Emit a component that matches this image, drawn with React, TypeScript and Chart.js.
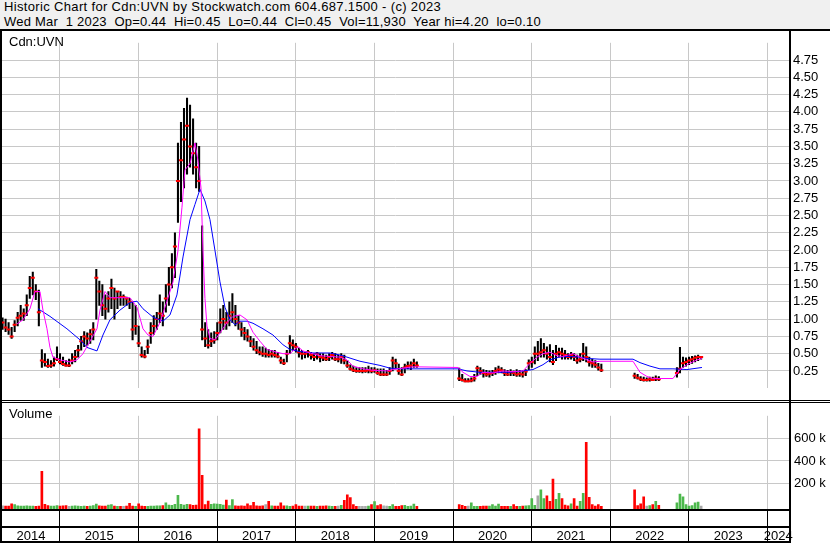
import { useEffect, useRef } from 'react';
import { Chart, registerables } from 'chart.js';

Chart.register(...registerables);

const FONT = '"Liberation Sans", Arial, sans-serif';
Chart.defaults.font.family = FONT;
Chart.defaults.font.size = 13;
Chart.defaults.color = '#000';

const TITLE_1 = 'Historic Chart for Cdn:UVN by Stockwatch.com 604.687.1500 - (c) 2023';
const TITLE_2 = 'Wed Mar  1 2023  Op=0.44  Hi=0.45  Lo=0.44  Cl=0.45  Vol=11,930  Year hi=4.20  lo=0.10';
const SYMBOL = 'Cdn:UVN';
const VOLUME_LABEL = 'Volume';

// time axis (decimal years)
const X_MIN = 2014.263;
const X_MAX = 2024.272;
const FIRST_PERIOD = 2014.27; // first bi-weekly bar
const PERIODS_PER_YEAR = 26;

const years = [2014, 2015, 2016, 2017, 2018, 2019, 2020, 2021, 2022, 2023, 2024];
const priceTicks = [0.25, 0.5, 0.75, 1, 1.25, 1.5, 1.75, 2, 2.25, 2.5, 2.75, 3, 3.25, 3.5, 3.75, 4, 4.25, 4.5, 4.75];
const volumeTicks = [200000, 400000, 600000];

const N = null;

// bi-weekly high / low / close
const high = [
  1.02, 1.00, 0.95, 0.88, 0.98, 1.10, 1.20, 1.15, 1.35, 1.62,
  1.68, 1.50, 1.42, 0.56, 0.50, 0.42, 0.40, 0.45, 0.60, 0.50,
  0.45, 0.40, 0.42, 0.50, 0.55, 0.62, 0.75, 0.82, 0.80, 0.85,
  0.95, 1.72, 1.55, 1.50, 1.35, 1.40, 1.58, 1.45, 1.40, 1.40,
  1.35, 1.32, 1.30, 1.25, 1.20, 0.90, 0.60, 0.55, 0.70, 0.95,
  1.05, 1.10, 1.35, 1.25, 1.50, 1.75, 1.95, 2.25, 3.55, 3.85,
  4.05, 4.20, 4.10, 3.90, 3.55, 3.50, 2.35, 0.95, 0.85, 0.80,
  0.82, 0.95, 1.15, 1.20, 1.10, 1.25, 1.37, 1.20, 1.05, 0.95,
  0.88, 0.85, 0.75, 0.72, 0.68, 0.60, 0.60, 0.58, 0.56, 0.55,
  0.55, 0.52, 0.45, 0.42, 0.55, 0.76, 0.70, 0.65, 0.58, 0.55,
  0.52, 0.55, 0.52, 0.50, 0.52, 0.50, 0.50, 0.48, 0.50, 0.52,
  0.50, 0.48, 0.50, 0.48, 0.40, 0.34, 0.32, 0.30, 0.30, 0.30,
  0.30, 0.32, 0.30, 0.30, 0.28, 0.28, 0.28, 0.26, 0.30, 0.45,
  0.42, 0.35, 0.30, 0.35, 0.38, 0.38, 0.42, 0.38, N, N,
  N, N, N, N, N, N, N, N, N, N,
  N, 0.29, 0.20, 0.14, 0.14, 0.15, 0.20, 0.32, 0.30, 0.27,
  0.26, 0.25, 0.26, 0.30, 0.32, 0.30, 0.27, 0.26, 0.27, 0.25,
  0.27, 0.26, 0.25, 0.27, 0.41, 0.45, 0.60, 0.68, 0.72, 0.65,
  0.60, 0.63, 0.55, 0.62, 0.58, 0.58, 0.55, 0.50, 0.52, 0.50,
  0.48, 0.50, 0.65, 0.60, 0.45, 0.42, 0.40, 0.36, 0.35, N,
  N, N, N, N, N, N, N, N, N, 0.22,
  0.20, 0.17, 0.16, 0.15, 0.16, 0.16, 0.18, 0.17, N, N,
  N, N, N, 0.30, 0.59, 0.45, 0.44, 0.45, 0.46, 0.47,
  0.48, 0.46,
];

const low = [
  0.85, 0.82, 0.78, 0.72, 0.82, 0.90, 0.98, 0.98, 1.05, 1.30,
  1.35, 1.28, 0.90, 0.30, 0.32, 0.30, 0.30, 0.32, 0.40, 0.35,
  0.33, 0.32, 0.31, 0.35, 0.38, 0.45, 0.55, 0.60, 0.62, 0.65,
  0.70, 1.00, 1.20, 1.05, 1.00, 1.10, 1.15, 1.00, 1.15, 1.20,
  1.20, 1.20, 1.15, 0.70, 0.78, 0.60, 0.45, 0.44, 0.50, 0.65,
  0.78, 0.85, 0.95, 0.90, 1.10, 1.20, 1.45, 1.60, 2.40, 2.70,
  2.90, 3.10, 3.20, 3.10, 2.90, 2.85, 0.70, 0.60, 0.58, 0.60,
  0.65, 0.70, 0.80, 0.85, 0.85, 0.90, 0.95, 0.90, 0.85, 0.75,
  0.70, 0.68, 0.60, 0.55, 0.50, 0.48, 0.46, 0.45, 0.45, 0.45,
  0.45, 0.44, 0.36, 0.34, 0.38, 0.50, 0.55, 0.52, 0.45, 0.42,
  0.44, 0.45, 0.42, 0.40, 0.42, 0.38, 0.40, 0.40, 0.40, 0.42,
  0.40, 0.38, 0.36, 0.35, 0.30, 0.26, 0.24, 0.23, 0.23, 0.22,
  0.23, 0.22, 0.22, 0.23, 0.20, 0.18, 0.18, 0.18, 0.20, 0.25,
  0.28, 0.20, 0.18, 0.22, 0.28, 0.27, 0.30, 0.30, N, N,
  N, N, N, N, N, N, N, N, N, N,
  N, 0.11, 0.10, 0.09, 0.09, 0.09, 0.10, 0.18, 0.20, 0.16,
  0.17, 0.16, 0.18, 0.20, 0.22, 0.22, 0.18, 0.18, 0.18, 0.18,
  0.17, 0.17, 0.16, 0.18, 0.27, 0.30, 0.35, 0.40, 0.45, 0.45,
  0.42, 0.38, 0.34, 0.40, 0.45, 0.42, 0.42, 0.42, 0.42, 0.40,
  0.36, 0.38, 0.40, 0.38, 0.32, 0.30, 0.30, 0.26, 0.24, N,
  N, N, N, N, N, N, N, N, N, 0.14,
  0.13, 0.11, 0.10, 0.10, 0.10, 0.11, 0.11, 0.11, N, N,
  N, N, N, 0.16, 0.22, 0.30, 0.32, 0.34, 0.36, 0.38,
  0.40, 0.42,
];

const close = [
  0.95, 0.88, 0.85, 0.75, 0.92, 1.02, 1.05, 1.08, 1.20, 1.45,
  1.60, 1.40, 1.10, 0.40, 0.38, 0.32, 0.33, 0.36, 0.42, 0.38,
  0.35, 0.33, 0.33, 0.40, 0.45, 0.55, 0.68, 0.75, 0.72, 0.78,
  0.85, 1.60, 1.40, 1.20, 1.15, 1.30, 1.45, 1.30, 1.40, 1.32,
  1.32, 1.30, 1.25, 0.85, 0.90, 0.65, 0.48, 0.46, 0.60, 0.80,
  0.90, 1.00, 1.08, 1.05, 1.30, 1.50, 1.75, 2.05, 3.00, 3.30,
  3.60, 3.80, 3.50, 3.40, 3.20, 3.00, 0.85, 0.72, 0.62, 0.68,
  0.70, 0.80, 0.95, 1.00, 0.95, 1.05, 1.10, 1.00, 0.95, 0.85,
  0.80, 0.75, 0.68, 0.60, 0.55, 0.52, 0.50, 0.50, 0.48, 0.50,
  0.48, 0.46, 0.40, 0.36, 0.50, 0.65, 0.62, 0.60, 0.52, 0.50,
  0.50, 0.52, 0.48, 0.45, 0.50, 0.45, 0.44, 0.42, 0.45, 0.48,
  0.42, 0.42, 0.45, 0.40, 0.33, 0.28, 0.26, 0.25, 0.25, 0.25,
  0.25, 0.26, 0.25, 0.26, 0.22, 0.20, 0.20, 0.20, 0.25, 0.40,
  0.36, 0.25, 0.20, 0.30, 0.32, 0.33, 0.36, 0.33, N, N,
  N, N, N, N, N, N, N, N, N, N,
  N, 0.14, 0.12, 0.10, 0.10, 0.11, 0.14, 0.29, 0.25, 0.22,
  0.20, 0.21, 0.22, 0.25, 0.27, 0.26, 0.22, 0.20, 0.23, 0.22,
  0.20, 0.21, 0.20, 0.24, 0.36, 0.38, 0.50, 0.50, 0.52, 0.55,
  0.50, 0.45, 0.38, 0.50, 0.52, 0.50, 0.48, 0.45, 0.48, 0.45,
  0.40, 0.42, 0.50, 0.45, 0.38, 0.36, 0.34, 0.30, 0.26, N,
  N, N, N, N, N, N, N, N, N, 0.18,
  0.15, 0.13, 0.12, 0.12, 0.13, 0.12, 0.14, 0.13, N, N,
  N, N, N, 0.22, 0.28, 0.36, 0.38, 0.40, 0.42, 0.44,
  0.45, 0.45,
];

// bi-weekly volume, thousands of shares
const volumeK = [
  8, 6, 5, 25, 18, 8, 6, 5, 7, 6,
  5, 4, 6, 310, 20, 10, 5, 6, 10, 5,
  8, 10, 4, 5, 8, 5, 4, 5, 4, 6,
  10, 23, 8, 6, 6, 15, 18, 5, 4, 3,
  4, 5, 30, 5, 4, 25, 5, 4, 4, 6,
  5, 7, 8, 10, 33, 15, 12, 20, 100, 20,
  15, 20, 18, 12, 15, 680, 275, 18, 50, 20,
  25, 22, 20, 15, 58, 10, 62, 8, 6, 8,
  6, 25, 10, 38, 8, 6, 8, 18, 48, 8,
  5, 6, 33, 8, 8, 4, 6, 18, 6, 6,
  6, 5, 6, 6, 4, 5, 6, 8, 5, 3,
  4, 5, 12, 56, 103, 79, 18, 4, 3, 4,
  3, 5, 18, 44, 10, 18, 8, 6, 4, 18,
  4, 3, 10, 12, 4, 6, 23, 3, N, N,
  N, N, N, N, N, N, N, N, N, N,
  N, 18, 12, 4, 6, 33, 4, 3, 4, 5,
  6, 5, 18, 6, 23, 4, 3, 3, 4, 18,
  4, 3, 5, 8, 10, 72, 12, 95, 148, 72,
  95, 46, 241, 64, 118, 72, 15, 8, 25, 72,
  6, 48, 118, 564, 82, 18, 5, 18, 4, N,
  N, N, N, N, N, N, N, N, N, 148,
  10, 25, 87, 6, 10, 18, 48, 12, N, N,
  N, N, N, 33, 110, 87, 18, 5, 10, 33,
  41, 5,
];

// moving averages: [decimal year, price]
const fastMA: [number, number][] = [
  [2014.454, 0.93], [2014.530, 0.99], [2014.619, 1.15], [2014.682, 1.40], [2014.746, 1.40],
  [2014.784, 1.13], [2014.835, 0.86], [2014.873, 0.59], [2014.911, 0.45], [2015.000, 0.41],
  [2015.128, 0.38], [2015.217, 0.41], [2015.293, 0.50], [2015.382, 0.68], [2015.471, 0.86],
  [2015.509, 1.13], [2015.573, 1.40], [2015.636, 1.31], [2015.891, 1.31], [2015.980, 1.17],
  [2016.056, 0.86], [2016.120, 0.77], [2016.183, 0.75], [2016.272, 0.95], [2016.361, 1.26],
  [2016.438, 1.54], [2016.501, 1.99], [2016.552, 2.62], [2016.590, 3.16], [2016.654, 3.25],
  [2016.717, 3.55], [2016.755, 3.30], [2016.794, 2.90], [2016.819, 2.00], [2016.844, 1.30],
  [2016.870, 0.90], [2016.908, 0.72], [2016.972, 0.70], [2017.035, 0.80], [2017.124, 0.95],
  [2017.201, 1.04], [2017.290, 1.06], [2017.379, 0.99], [2017.455, 0.81], [2017.544, 0.68],
  [2017.633, 0.56], [2017.760, 0.52], [2017.836, 0.50], [2017.926, 0.50], [2017.964, 0.54],
  [2018.027, 0.60], [2018.091, 0.54], [2018.180, 0.51], [2018.307, 0.47], [2018.434, 0.46],
  [2018.561, 0.45], [2018.650, 0.41], [2018.727, 0.32], [2018.854, 0.28], [2018.981, 0.26],
  [2019.159, 0.25], [2019.235, 0.27], [2019.363, 0.29], [2019.490, 0.31], [2020.062, 0.30],
  [2020.126, 0.23], [2020.215, 0.17], [2020.304, 0.17], [2020.380, 0.23], [2020.507, 0.22],
  [2020.634, 0.25], [2020.762, 0.24], [2020.889, 0.25], [2020.978, 0.36], [2021.067, 0.45],
  [2021.143, 0.50], [2021.232, 0.52], [2021.321, 0.47], [2021.397, 0.46], [2021.525, 0.50],
  [2021.614, 0.45], [2021.703, 0.41], [2021.779, 0.38], [2021.868, 0.39], [2022.288, 0.39],
  [2022.377, 0.23], [2022.466, 0.17], [2022.542, 0.14], [2022.796, 0.14], [2022.885, 0.27],
  [2022.974, 0.34], [2023.102, 0.41], [2023.165, 0.43],
];

const slowMA: [number, number][] = [
  [2014.721, 1.15], [2014.873, 1.04], [2015.089, 0.86], [2015.255, 0.70], [2015.344, 0.59],
  [2015.471, 0.54], [2015.547, 0.77], [2015.636, 0.99], [2015.763, 1.13], [2015.891, 1.24],
  [2015.980, 1.26], [2016.056, 1.15], [2016.183, 1.03], [2016.310, 0.97], [2016.399, 1.06],
  [2016.488, 1.35], [2016.565, 1.90], [2016.654, 2.44], [2016.717, 2.66], [2016.781, 2.88],
  [2016.844, 2.71], [2016.908, 2.44], [2016.972, 1.99], [2017.035, 1.54], [2017.099, 1.17],
  [2017.162, 0.99], [2017.226, 0.92], [2017.290, 0.97], [2017.379, 0.97], [2017.455, 0.94],
  [2017.582, 0.86], [2017.709, 0.77], [2017.836, 0.63], [2017.926, 0.56], [2018.053, 0.53],
  [2018.218, 0.51], [2018.434, 0.51], [2018.561, 0.48], [2018.650, 0.45], [2018.816, 0.39],
  [2018.943, 0.36], [2019.070, 0.33], [2019.198, 0.29], [2019.363, 0.28], [2020.062, 0.28],
  [2020.176, 0.25], [2020.342, 0.23], [2020.723, 0.23], [2020.889, 0.25], [2021.016, 0.27],
  [2021.143, 0.34], [2021.232, 0.41], [2021.347, 0.45], [2021.474, 0.46], [2021.614, 0.45],
  [2021.703, 0.43], [2021.868, 0.42], [2022.288, 0.42], [2022.377, 0.37], [2022.504, 0.32],
  [2022.631, 0.28], [2022.796, 0.28], [2022.974, 0.27], [2023.165, 0.30],
];

const GRID = '#c8c8c8';
const UP = '#4cb84c';
const DOWN = '#ff0000';
const FLAT = '#a8a8a8';
const VOL_MIN = -20000;
const VOL_MAX = 795000;

const periodDate = (i: number) => FIRST_PERIOD + i / PERIODS_PER_YEAR;
const yearGridTicks = (s: any) => {
  s.ticks = years.filter((y) => y > X_MIN && y < X_MAX).map((v) => ({ value: v }));
};

const yearLabelPlugin = {
  id: 'yearLabels',
  afterDraw(chart: any) {
    const { ctx, chartArea } = chart;
    const x = chart.scales.x;
    ctx.save();
    ctx.font = `13px ${FONT}`;
    ctx.fillStyle = '#000';
    ctx.textAlign = 'center';
    ctx.textBaseline = 'alphabetic';
    years.forEach((yr) => {
      const a = Math.max(yr, X_MIN);
      const b = Math.min(yr + 1, X_MAX);
      if (b <= a) return;
      const cx = (x.getPixelForValue(a) + x.getPixelForValue(b)) / 2;
      ctx.fillText(String(yr), cx, chartArea.bottom + 31);
    });
    ctx.restore();
  },
};

export default function App() {
  const priceRef = useRef<HTMLCanvasElement | null>(null);
  const volRef = useRef<HTMLCanvasElement | null>(null);

  useEffect(() => {
    const bars: any[] = [];
    const closes: any[] = [];
    high.forEach((h, i) => {
      if (h == null || low[i] == null) return;
      const x = periodDate(i);
      bars.push({ x, y: [low[i], h] });
      closes.push({ x, y: close[i] });
    });

    const volPts: any[] = [];
    const volColors: string[] = [];
    let prev: number | null = null;
    volumeK.forEach((v, i) => {
      if (v == null) return;
      const c = close[i] as number;
      const col = prev == null || c === prev ? FLAT : c > prev ? UP : DOWN;
      prev = c;
      volPts.push({ x: periodDate(i), y: v * 1000 });
      volColors.push(col);
    });

    const common = {
      animation: false as const,
      responsive: false,
      events: [] as any[],
      plugins: { legend: { display: false }, tooltip: { enabled: false } },
    };

    const price = new Chart(priceRef.current as HTMLCanvasElement, {
      type: 'bar',
      data: {
        datasets: [
          {
            type: 'line',
            data: fastMA.map(([x, y]) => ({ x, y })),
            borderColor: '#ff00ff',
            borderWidth: 1,
            pointRadius: 0,
            order: 0,
          } as any,
          {
            type: 'line',
            data: slowMA.map(([x, y]) => ({ x, y })),
            borderColor: '#0000ff',
            borderWidth: 1,
            pointRadius: 0,
            order: 0,
          } as any,
          {
            type: 'scatter',
            data: closes,
            pointStyle: 'line',
            pointRadius: 2,
            pointBorderWidth: 2,
            borderColor: '#ff0000',
            pointBorderColor: '#ff0000',
            order: 1,
          } as any,
          {
            type: 'bar',
            data: bars,
            backgroundColor: '#000',
            barThickness: 1.4,
            grouped: false,
            order: 2,
          } as any,
        ],
      },
      options: {
        ...common,
        layout: { padding: { left: 2, right: 0, top: 0, bottom: 0 }, autoPadding: false },
        scales: {
          x: {
            type: 'linear',
            min: X_MIN,
            max: X_MAX,
            offset: false,
            afterBuildTicks: yearGridTicks,
            ticks: { display: false },
            grid: { color: GRID, drawTicks: false, offset: false },
            border: { display: false },
            afterFit: (s: any) => { s.height = 0; },
          },
          y: {
            type: 'linear',
            position: 'right',
            min: 0,
            max: 5,
            afterBuildTicks: (s: any) => { s.ticks = priceTicks.map((v) => ({ value: v })); },
            ticks: { padding: 4, color: '#000', callback: (v: any) => Number(v).toFixed(2) },
            grid: { color: GRID, drawTicks: false },
            border: { display: false },
            afterFit: (s: any) => { s.width = 41; },
          },
        },
      } as any,
    });

    const volume = new Chart(volRef.current as HTMLCanvasElement, {
      type: 'bar',
      data: {
        datasets: [
          {
            data: volPts,
            backgroundColor: volColors,
            barThickness: 2,
            base: VOL_MIN,
            grouped: false,
          } as any,
        ],
      },
      options: {
        ...common,
        layout: { padding: { left: 2, right: 0, top: 0, bottom: 0 }, autoPadding: false },
        scales: {
          x: {
            type: 'linear',
            min: X_MIN,
            max: X_MAX,
            offset: false,
            afterBuildTicks: yearGridTicks,
            ticks: { display: false },
            grid: { color: GRID, tickColor: '#000', tickLength: 32, drawTicks: true, offset: false },
            border: { display: false },
            afterFit: (s: any) => { s.height = 32; },
          },
          y: {
            type: 'linear',
            position: 'right',
            min: VOL_MIN,
            max: VOL_MAX,
            afterBuildTicks: (s: any) => { s.ticks = volumeTicks.map((v) => ({ value: v })); },
            ticks: { padding: 5, color: '#000', callback: (v: any) => `${Number(v) / 1000} k` },
            grid: { color: GRID, drawTicks: false },
            border: { display: false },
            afterFit: (s: any) => { s.width = 41; },
          },
        },
      } as any,
      plugins: [yearLabelPlugin],
    });

    return () => {
      price.destroy();
      volume.destroy();
    };
  }, []);

  const line = (left: number, top: number, width: number, height: number) => (
    <div style={{ position: 'absolute', left, top, width, height, background: '#000' }} />
  );

  const titleStyle = {
    position: 'absolute' as const,
    left: 4,
    whiteSpace: 'pre' as const,
    lineHeight: '13px',
  };

  return (
    <div
      style={{
        position: 'fixed',
        left: 0,
        top: 0,
        width: 830,
        height: 543,
        background: '#fff',
        overflow: 'hidden',
        fontFamily: FONT,
        fontSize: 13,
        color: '#000',
      }}
    >
      <div style={{ position: 'absolute', left: 0, top: 0, width: 830, height: 29, background: '#f0f0f0' }} />
      <div style={{ ...titleStyle, top: 0, letterSpacing: '0.34px' }}>{TITLE_1}</div>
      <div style={{ ...titleStyle, top: 15, letterSpacing: '0.22px' }}>{TITLE_2}</div>

      <canvas
        ref={priceRef}
        width={830}
        height={369}
        style={{ position: 'absolute', left: 0, top: 31, width: 830, height: 369 }}
      />
      <canvas
        ref={volRef}
        width={830}
        height={138}
        style={{ position: 'absolute', left: 0, top: 403, width: 830, height: 138 }}
      />

      {line(0, 29, 830, 2)}
      {line(0, 29, 2, 514)}
      {line(789, 29, 2, 514)}
      {line(0, 400, 830, 1)}
      {line(0, 402, 830, 1)}
      {line(0, 509, 791, 2)}
      {line(0, 526, 791, 2)}
      {line(0, 541, 791, 2)}

      <div style={{ position: 'absolute', left: 9, top: 35, lineHeight: '13px', whiteSpace: 'pre' }}>{SYMBOL}</div>
      <div style={{ position: 'absolute', left: 9, top: 407, lineHeight: '13px', whiteSpace: 'pre' }}>{VOLUME_LABEL}</div>
    </div>
  );
}
